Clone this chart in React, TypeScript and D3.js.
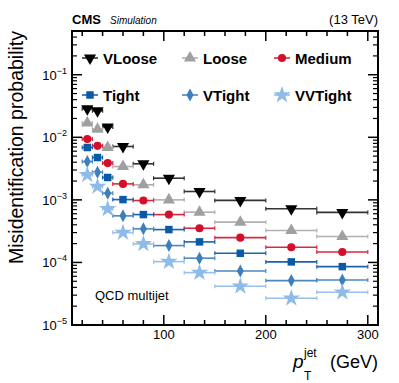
import React from 'react';
import * as d3 from 'd3';

// pT bins (GeV)
const binLow = [20, 30, 40, 50, 70, 90, 120, 150, 200, 250];
const binHigh = [30, 40, 50, 70, 90, 120, 150, 200, 250, 300];
const binCenter = [25, 35, 45, 60, 80, 105, 135, 175, 225, 275];

// misidentification probability per working point
const vloose = [0.0286, 0.0265, 0.0146, 0.00713, 0.00377, 0.00222, 0.00136, 0.00098, 0.00072, 0.00063];
const loose = [0.0169, 0.0135, 0.00687, 0.00341, 0.00174, 0.001, 0.000635, 0.00044, 0.000323, 0.000259];
const medium = [0.0094, 0.00731, 0.00387, 0.0018, 0.000976, 0.000582, 0.000352, 0.000249, 0.000175, 0.000147];
const tight = [0.00687, 0.00475, 0.00228, 0.00101, 0.000582, 0.000335, 0.000213, 0.00014, 0.000102, 0.0000857];
const vtight = [0.0041, 0.00277, 0.00128, 0.000555, 0.000344, 0.000186, 0.000117, 0.0000731, 0.0000512, 0.0000525];
const vvtight = [0.00251, 0.00163, 0.000718, 0.0003, 0.000198, 0.000103, 0.0000687, 0.0000416, 0.0000267, 0.0000334];

const xTicks = [100, 200, 300];
const yDecades = [-5, -4, -3, -2, -1];

const FONT = '"Liberation Sans", Arial, Helvetica, sans-serif';

const series = [
  { name: 'VLoose', values: vloose, color: '#000000', line: '#333333', shape: 'tdown' },
  { name: 'Loose', values: loose, color: '#a0a0a0', line: '#b0b0b0', shape: 'tup' },
  { name: 'Medium', values: medium, color: '#d40f2a', line: '#d8293f', shape: 'circle' },
  { name: 'Tight', values: tight, color: '#0b5aa8', line: '#1b64ad', shape: 'square' },
  { name: 'VTight', values: vtight, color: '#3d7ebd', line: '#4c87c2', shape: 'diamond' },
  { name: 'VVTight', values: vvtight, color: '#8fbbe8', line: '#98c0ea', shape: 'star' },
];

// legend layout (3 columns x 2 rows)
const legendCols = [90, 190, 282];
const legendRows = [58, 95];

function Marker({ shape, color, x, y }: { shape: string; color: string; x: number; y: number }) {
  let path = '';
  if (shape === 'tdown' || shape === 'tup') {
    path = d3.symbol(d3.symbolTriangle, 64)() as string;
  } else if (shape === 'circle') {
    path = d3.symbol(d3.symbolCircle, 52)() as string;
  } else if (shape === 'square') {
    path = d3.symbol(d3.symbolSquare, 56)() as string;
  } else if (shape === 'star') {
    path = d3.symbol(d3.symbolStar, 95)() as string;
  } else {
    path = 'M0,-6.5L3.5,0L0,6.5L-3.5,0Z';
  }
  const rot = shape === 'tdown' ? ' rotate(180)' : '';
  return <path d={path} fill={color} transform={`translate(${x},${y})${rot}`} />;
}

export default function App() {
  const W = 399;
  const H = 383;
  const left = 72, right = 378, top = 31, bottom = 325;

  const x = d3.scaleLinear().domain([10, 310]).range([left, right]);
  const y = d3.scaleLog().domain([1e-5, 0.5]).range([bottom, top]);

  const minorX = d3.range(20, 310, 20).filter((v) => v % 100 !== 0);
  const minorY: number[] = [];
  yDecades.concat([0]).forEach((e) => {
    for (let k = 2; k <= 9; k++) {
      const v = k * Math.pow(10, e - 1);
      if (v > 1e-5 && v < 0.5) minorY.push(v);
    }
  });

  return (
    <svg width={W} height={H} style={{ display: 'block', position: 'absolute', left: 0, top: 0 }} fontFamily={FONT}>
      <rect width={W} height={H} fill="#fff" />

      {/* header */}
      <text x={left} y={24} fontSize={13} fontWeight="bold">CMS</text>
      <text x={110} y={24} fontSize={10} fontStyle="italic">Simulation</text>
      <text x={right} y={24} fontSize={13} textAnchor="end">(13 TeV)</text>

      {/* data */}
      {series.map((s) => (
        <g key={s.name}>
          {s.values.map((v, i) => (
            <g key={i}>
              <line x1={x(binLow[i])} x2={x(binHigh[i])} y1={y(v)} y2={y(v)} stroke={s.line} strokeWidth={1.6} />
              <line x1={x(binLow[i])} x2={x(binLow[i])} y1={y(v) - 2} y2={y(v) + 2} stroke={s.line} strokeWidth={1.2} />
              <line x1={x(binHigh[i])} x2={x(binHigh[i])} y1={y(v) - 2} y2={y(v) + 2} stroke={s.line} strokeWidth={1.2} />
              <Marker shape={s.shape} color={s.color} x={x(binCenter[i])} y={y(v)} />
            </g>
          ))}
        </g>
      ))}

      {/* legend */}
      {series.map((s, i) => {
        const cx = legendCols[i % 3];
        const cy = legendRows[Math.floor(i / 3)];
        return (
          <g key={s.name}>
            <line x1={cx - 8} x2={cx + 8} y1={cy} y2={cy} stroke={s.line} strokeWidth={1.6} />
            <Marker shape={s.shape} color={s.color} x={cx} y={cy} />
            <text x={cx + 13} y={cy + 5.5} fontSize={15} fontWeight="bold">{s.name}</text>
          </g>
        );
      })}

      <text x={95} y={300} fontSize={13}>QCD multijet</text>

      {/* ticks */}
      {xTicks.map((t) => (
        <g key={t}>
          <line x1={x(t)} x2={x(t)} y1={bottom} y2={bottom - 10} stroke="#000" strokeWidth={1.5} />
          <line x1={x(t)} x2={x(t)} y1={top} y2={top + 10} stroke="#000" strokeWidth={1.5} />
          <text x={x(t)} y={bottom + 14} fontSize={13} textAnchor="middle">{t}</text>
        </g>
      ))}
      {minorX.map((t) => (
        <g key={t}>
          <line x1={x(t)} x2={x(t)} y1={bottom} y2={bottom - 5} stroke="#000" strokeWidth={1.5} />
          <line x1={x(t)} x2={x(t)} y1={top} y2={top + 5} stroke="#000" strokeWidth={1.5} />
        </g>
      ))}
      {yDecades.map((e) => {
        const v = Math.pow(10, e);
        return (
          <g key={e}>
            <line x1={left} x2={left + 10} y1={y(v)} y2={y(v)} stroke="#000" strokeWidth={1.5} />
            <line x1={right} x2={right - 10} y1={y(v)} y2={y(v)} stroke="#000" strokeWidth={1.5} />
            <text x={67} y={y(v) + 5} fontSize={13} textAnchor="end">
              10<tspan dy={-6} fontSize={9}>{'\u2212' + Math.abs(e)}</tspan>
            </text>
          </g>
        );
      })}
      {minorY.map((v, i) => (
        <g key={i}>
          <line x1={left} x2={left + 5} y1={y(v)} y2={y(v)} stroke="#000" strokeWidth={1.2} />
          <line x1={right} x2={right - 5} y1={y(v)} y2={y(v)} stroke="#000" strokeWidth={1.2} />
        </g>
      ))}

      {/* frame */}
      <rect x={left} y={top} width={right - left} height={bottom - top} fill="none" stroke="#000" strokeWidth={2} />

      {/* axis titles */}
      <text transform={`translate(23,${top}) rotate(-90)`} fontSize={19.5} textAnchor="end">
        Misidentification probability
      </text>
      <text x={293} y={368} fontSize={19} fontStyle="italic">p</text>
      <text x={304} y={357} fontSize={12}>jet</text>
      <text x={304} y={380} fontSize={12}>T</text>
      <text x={right} y={368} fontSize={18} textAnchor="end">(GeV)</text>
    </svg>
  );
}
